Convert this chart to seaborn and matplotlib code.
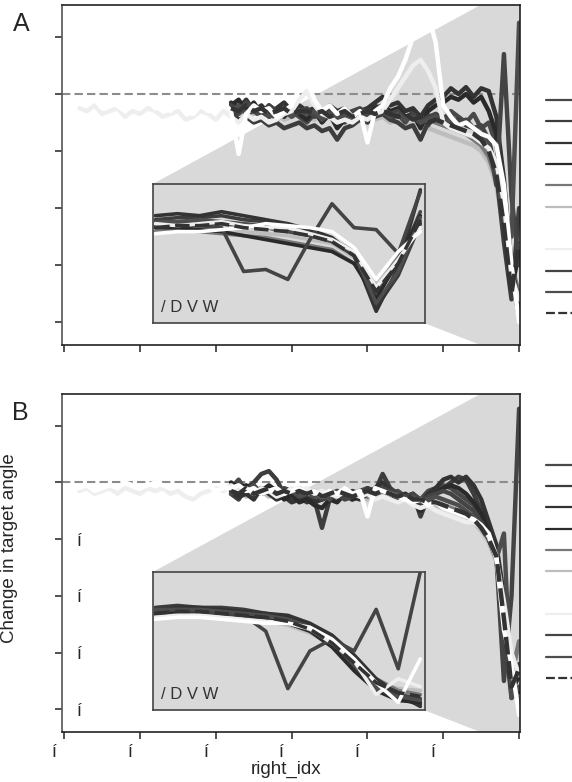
import pandas as pd
import matplotlib
matplotlib.use('Agg')
import matplotlib.pyplot as plt
from matplotlib.lines import Line2D
from matplotlib.patches import Polygon
from matplotlib.transforms import ScaledTranslation
import seaborn as sns

sns.set_style('white')
plt.rcParams['font.family'] = ['Liberation Sans', 'DejaVu Sans']

groups = ['s01', 's02', 's03', 's04', 's05', 's06', 's07', 's08', 's09', 's10', 's11']
colors = ['#484848', '#3d3d3d', '#333333', '#2a2a2a', '#787878', '#bdbdbd',
          '#ffffff', '#eeeeee', '#444444', '#4d4d4d', '#333333']
dashed = ['s11']
draw_order = ['s06', 's05', 's01', 's02', 's03', 's04', 's09', 's10', 's08', 's07', 's11']

right_idx_short = list(range(-38, 1))
right_idx_long = list(range(-58, 1))
inset_idx = [-6.0, -5.5, -5.0, -4.5, -4.0, -3.5, -3.0, -2.5, -2.0, -1.5, -1.0, -0.5, 0.0]

xticks = [-60, -50, -40, -30, -20, -10, 0]
yticks = [1, 0, -1, -2, -3, -4]

# panel A, main axes
a_main = [
    [-0.25, -0.35, -0.2, -0.3, -0.4, -0.3, -0.45, -0.35, -0.3, -0.4,
     -0.5, -0.35, -0.45, -0.3, -0.4, -0.5, -0.35, -0.3, -0.45, -0.2,
     -0.3, -0.45, -0.35, -0.5, -0.3, -0.4, -0.55, -0.35, -0.45, -0.3,
     -0.4, -0.5, -0.35, -0.6, -0.5, -0.9, -1.8, -3.2, -3.9],
    [-0.3, -0.45, -0.4, -0.5, -0.45, -0.55, -0.5, -0.6, -0.55, -0.5,
     -0.6, -0.55, -0.65, -0.6, -0.8, -0.6, -0.55, -0.45, -0.5, -0.4,
     -0.35, -0.45, -0.5, -0.6, -0.55, -0.8, -0.5, -0.45, -0.4, -0.5,
     -0.45, -0.55, -0.6, -0.7, -0.8, -1.4, -2.6, -3.6, -2.0],
    [-0.15, -0.25, -0.1, -0.3, -0.2, -0.35, -0.25, -0.15, -0.3, -0.2,
     -0.3, -0.25, -0.35, -0.2, -0.3, -0.25, -0.4, -0.3, -0.25, -0.15,
     -0.05, -0.2, -0.15, -0.3, -0.25, -0.4, -0.2, -0.1, -0.05, 0.1,
     0.0, 0.12, -0.05, 0.1, 0.05, -0.4, -1.5, -3.0, -3.7],
    [-0.2, -0.1, -0.3, -0.15, -0.35, -0.2, -0.3, -0.4, -0.25, -0.35,
     -0.45, -0.3, -0.5, -0.35, -0.6, -0.45, -0.4, -0.3, -0.35, -0.25,
     -0.2, -0.3, -0.25, -0.4, -0.35, -0.6, -0.3, -0.2, -0.15, -0.05,
     -0.1, 0.0, -0.15, -0.05, -0.3, -0.7, -2.2, -3.4, -2.8],
    [-0.3, -0.2, -0.35, -0.25, -0.3, -0.4, -0.3, -0.35, -0.25, -0.3,
     -0.35, -0.3, -0.4, -0.3, -0.45, -0.35, -0.3, -0.4, -0.25, -0.35,
     -0.3, -0.4, -0.35, -0.45, -0.4, -0.5, -0.45, -0.5, -0.55, -0.6,
     -0.65, -0.7, -0.8, -0.9, -1.1, -1.5, -2.0, -3.0, -3.5],
    [-0.35, -0.3, -0.4, -0.35, -0.3, -0.4, -0.35, -0.45, -0.4, -0.35,
     -0.4, -0.45, -0.35, -0.4, -0.5, -0.4, -0.45, -0.35, -0.4, -0.45,
     -0.4, -0.5, -0.45, -0.5, -0.55, -0.5, -0.6, -0.65, -0.7, -0.75,
     -0.8, -0.85, -0.9, -1.0, -1.2, -1.6, -2.4, -3.3, -2.5],
    [-0.15, -0.2, -0.1, -0.25, -0.15, -0.2, -0.3, -0.15, -0.2, -0.1,
     -0.25, -0.2, -0.3, -0.15, -0.25, -0.35, -0.2, -0.3, -0.25, -0.15,
     -0.3, -1.05, -0.35, -0.2, -0.3, -0.25, -0.4, -0.3, -0.2, 0.1,
     0.25, -0.1, -0.3, -0.2, -0.35, -0.25, -0.4, -0.3, -0.85, -0.3,
     -0.2, 0.1, 0.3, 0.6, 1.0, 1.1, 1.4, 0.9, -0.2, -0.4,
     -0.55, -0.5, -0.6, -0.7, -0.75, -0.9, -1.6, -3.0, -4.0],
    [-0.25, -0.3, -0.2, -0.35, -0.3, -0.25, -0.4, -0.3, -0.35, -0.25,
     -0.3, -0.4, -0.35, -0.3, -0.45, -0.4, -0.3, -0.35, -0.45, -0.3,
     -0.4, -0.5, -0.35, -0.45, -0.4, -0.5, -0.45, -0.35, -0.3, -0.1,
     0.05, -0.2, -0.35, -0.4, -0.5, -0.45, -0.5, -0.4, -0.45, -0.35,
     -0.3, -0.1, 0.1, 0.3, 0.5, 0.6, 0.4, 0.1, -0.5, -0.6,
     -0.65, -0.7, -0.75, -0.85, -0.95, -1.2, -1.9, -3.2, -3.6],
    [-0.2, -0.3, -0.15, -0.25, -0.35, -0.2, -0.3, -0.25, -0.35, -0.3,
     -0.25, -0.4, -0.3, -0.35, -0.5, -0.4, -0.3, -0.25, -0.35, -0.3,
     -0.25, -0.35, -0.3, -0.45, -0.35, -0.5, -0.4, -0.35, -0.45, -0.4,
     -0.5, -0.45, -0.6, -0.55, -0.8, -1.6, 0.7, -1.8, -3.0],
    [-0.3, -0.2, -0.35, -0.3, -0.25, -0.4, -0.35, -0.3, -0.4, -0.3,
     -0.35, -0.3, -0.45, -0.35, -0.4, -0.35, -0.5, -0.4, -0.3, -0.35,
     -0.3, -0.4, -0.35, -0.45, -0.4, -0.5, -0.45, -0.4, -0.5, -0.45,
     -0.55, -0.5, -0.6, -0.7, -0.9, -1.3, -2.2, -2.5, 1.25],
    [-0.25, -0.3, -0.2, -0.3, -0.25, -0.35, -0.3, -0.25, -0.35, -0.3,
     -0.3, -0.35, -0.3, -0.4, -0.35, -0.3, -0.4, -0.35, -0.3, -0.35,
     -0.3, -0.35, -0.4, -0.35, -0.45, -0.4, -0.5, -0.45, -0.5, -0.55,
     -0.6, -0.65, -0.7, -0.8, -1.0, -1.4, -2.3, -3.5, -2.6],
]

# panel B, main axes
b_main = [
    [-0.1, 0.05, -0.15, -0.05, -0.2, -0.1, -0.25, -0.15, -0.2, -0.1,
     -0.2, -0.15, -0.25, -0.2, -0.15, -0.25, -0.2, -0.15, -0.1, -0.2,
     -0.1, -0.2, -0.15, -0.25, -0.2, -0.3, -0.15, -0.1, -0.05, -0.1,
     -0.2, -0.3, -0.4, -0.6, -0.9, -1.3, -2.6, -3.8, -3.2],
    [-0.2, -0.3, -0.1, 0.0, 0.15, 0.2, 0.05, -0.2, -0.3, -0.25,
     -0.35, -0.3, -0.8, -0.3, -0.2, -0.25, -0.15, -0.2, -0.1, -0.15,
     0.15, -0.1, -0.2, -0.3, -0.2, -0.6, -0.25, -0.15, -0.1, 0.0,
     0.1, 0.05, -0.2, -0.5, -0.8, -1.2, -2.2, -3.5, -3.9],
    [-0.15, -0.25, -0.2, -0.3, -0.1, -0.2, -0.3, -0.25, -0.35, -0.3,
     -0.25, -0.35, -0.3, -0.2, -0.25, -0.15, -0.25, -0.3, -0.2, -0.1,
     0.0, -0.15, -0.25, -0.2, -0.3, -0.4, -0.2, -0.1, 0.05, 0.1,
     0.0, 0.1, -0.05, -0.3, -0.7, -1.1, -2.0, -3.6, -3.7],
    [0.0, -0.1, -0.05, -0.2, -0.15, -0.05, -0.15, -0.3, -0.2, -0.35,
     -0.3, -0.4, -0.45, -0.3, -0.35, -0.2, -0.3, -0.25, -0.15, -0.2,
     -0.1, -0.2, -0.3, -0.25, -0.35, -0.5, -0.3, -0.2, -0.1, -0.05,
     -0.1, -0.2, -0.35, -0.55, -0.85, -1.25, -2.4, -3.7, -3.4],
    [-0.15, -0.1, -0.2, -0.15, -0.1, -0.2, -0.15, -0.2, -0.25, -0.2,
     -0.25, -0.2, -0.3, -0.25, -0.2, -0.25, -0.3, -0.2, -0.25, -0.2,
     -0.15, -0.2, -0.25, -0.2, -0.3, -0.35, -0.3, -0.35, -0.4, -0.45,
     -0.5, -0.55, -0.65, -0.8, -1.0, -1.35, -2.5, -3.4, -2.8],
    [-0.2, -0.15, -0.25, -0.2, -0.15, -0.25, -0.2, -0.25, -0.2, -0.3,
     -0.25, -0.3, -0.25, -0.2, -0.3, -0.25, -0.3, -0.25, -0.3, -0.25,
     -0.2, -0.25, -0.3, -0.25, -0.35, -0.4, -0.35, -0.4, -0.45, -0.5,
     -0.55, -0.6, -0.7, -0.85, -1.05, -1.4, -2.3, -3.3, -3.0],
    [-0.1, -0.05, -0.15, -0.1, -0.05, -0.1, 0.0, -0.05, -0.1, -0.05,
     0.0, -0.05, -0.1, -0.05, -0.15, -0.2, -0.1, -0.05, -0.15, -0.1,
     -0.1, -0.05, -0.15, -0.1, -0.2, -0.15, -0.1, -0.2, -0.15, -0.1,
     -0.2, -0.15, -0.25, -0.15, -0.2, -0.1, -0.2, -0.15, -0.6, -0.1,
     -0.15, -0.2, -0.25, -0.3, -0.35, -0.3, -0.4, -0.35, -0.45, -0.5,
     -0.55, -0.6, -0.65, -0.75, -0.9, -1.3, -2.6, -3.2, -4.1],
    [-0.15, -0.1, -0.2, -0.15, -0.1, -0.2, -0.1, -0.15, -0.2, -0.1,
     -0.15, -0.1, -0.2, -0.15, -0.25, -0.3, -0.2, -0.15, -0.1, -0.15,
     -0.05, -0.15, -0.1, -0.2, -0.1, -0.15, -0.25, -0.2, -0.1, -0.15,
     -0.1, -0.2, -0.15, -0.2, -0.25, -0.15, -0.2, -0.25, -0.2, -0.3,
     -0.25, -0.3, -0.35, -0.3, -0.4, -0.45, -0.4, -0.5, -0.55, -0.6,
     -0.65, -0.7, -0.7, -0.8, -0.95, -1.35, -2.1, -3.0, -3.4],
    [-0.05, -0.15, -0.1, -0.2, -0.1, -0.15, -0.2, -0.1, -0.15, -0.2,
     -0.15, -0.2, -0.3, -0.25, -0.2, -0.3, -0.25, -0.2, -0.15, -0.2,
     -0.1, -0.15, -0.2, -0.25, -0.2, -0.35, -0.25, -0.2, -0.15, -0.2,
     -0.3, -0.4, -0.5, -0.7, -1.0, -1.3, -3.5, -2.0, 1.3],
    [-0.2, -0.1, -0.15, -0.05, -0.2, -0.15, -0.1, -0.2, -0.15, -0.25,
     -0.2, -0.25, -0.2, -0.3, -0.15, -0.2, -0.25, -0.15, -0.2, -0.15,
     -0.15, -0.2, -0.2, -0.3, -0.25, -0.35, -0.3, -0.25, -0.3, -0.35,
     -0.4, -0.5, -0.6, -0.75, -1.0, -1.35, -0.9, -3.8, -3.6],
    [-0.15, -0.2, -0.1, -0.2, -0.15, -0.1, -0.2, -0.15, -0.2, -0.15,
     -0.2, -0.15, -0.25, -0.2, -0.15, -0.2, -0.25, -0.2, -0.15, -0.2,
     -0.15, -0.2, -0.25, -0.2, -0.3, -0.3, -0.35, -0.35, -0.4, -0.45,
     -0.5, -0.55, -0.65, -0.8, -1.0, -1.3, -2.4, -3.6, -3.3],
]

# "Last" insets
a_inset = [
    [-0.55, -0.5, -0.45, -0.5, -0.55, -0.6, -0.7, -0.8, -0.95, -1.3, -2.3, -1.5, -0.2],
    [-0.4, -0.35, -0.35, -0.3, -0.4, -0.45, -0.55, -0.7, -0.9, -1.2, -2.6, -1.8, -0.5],
    [-0.3, -0.25, -0.3, -0.2, -0.3, -0.4, -0.5, -0.65, -0.85, -1.3, -2.7, -1.6, 0.35],
    [-0.6, -0.6, -0.65, -0.7, -0.8, -0.9, -1.0, -1.1, -1.2, -1.5, -2.4, -1.4, -0.3],
    [-0.7, -0.65, -0.7, -0.75, -0.8, -0.85, -0.95, -1.05, -1.15, -1.5, -2.2, -1.3, -0.45],
    [-0.65, -0.6, -0.6, -0.65, -0.7, -0.75, -0.8, -0.9, -1.0, -1.35, -2.0, -1.2, -0.5],
    [-0.75, -0.7, -0.7, -0.65, -0.6, -0.5, -0.55, -0.6, -0.7, -1.1, -1.9, -1.2, -0.7],
    [-0.5, -0.55, -0.5, -0.45, -0.55, -0.6, -0.6, -0.75, -0.9, -1.2, -2.1, -1.4, -0.6],
    [-0.55, -0.5, -0.55, -0.6, -1.7, -1.65, -1.9, -0.9, 0.0, -0.6, -0.65, -1.25, 0.3],
    [-0.45, -0.45, -0.4, -0.45, -0.5, -0.55, -0.65, -0.75, -0.9, -1.25, -2.5, -1.7, -0.35],
    [-0.6, -0.55, -0.55, -0.5, -0.6, -0.65, -0.7, -0.8, -0.95, -1.3, -2.2, -1.5, -0.4],
]
b_inset = [
    [-0.5, -0.45, -0.5, -0.5, -0.55, -0.6, -0.7, -0.9, -1.3, -1.9, -2.4, -2.6, -2.7],
    [-0.4, -0.35, -0.4, -0.4, -0.45, -0.55, -0.65, -0.85, -1.2, -1.7, -2.3, -2.7, -2.85],
    [-0.45, -0.4, -0.4, -0.45, -0.5, -0.55, -0.6, -0.8, -1.1, -1.6, -2.2, -2.6, -2.9],
    [-0.55, -0.5, -0.5, -0.55, -0.6, -0.7, -0.8, -1.0, -1.4, -2.0, -2.5, -2.75, -2.8],
    [-0.6, -0.55, -0.55, -0.6, -0.65, -0.7, -0.8, -1.0, -1.3, -1.8, -2.2, -2.5, -2.6],
    [-0.6, -0.6, -0.55, -0.6, -0.65, -0.75, -0.85, -1.05, -1.35, -1.85, -2.3, -2.45, -2.5],
    [-0.7, -0.65, -0.65, -0.7, -0.75, -0.8, -0.8, -0.9, -1.2, -1.7, -2.3, -2.8, -1.7],
    [-0.65, -0.6, -0.6, -0.65, -0.7, -0.75, -0.8, -0.95, -1.3, -1.75, -2.6, -2.2, -2.4],
    [-0.5, -0.45, -0.5, -0.55, -0.6, -1.0, -2.45, -1.5, -1.2, -1.5, -0.45, -1.95, 0.5],
    [-0.45, -0.45, -0.45, -0.5, -0.55, -0.6, -0.7, -0.9, -1.25, -1.85, -2.45, -2.65, -2.75],
    [-0.55, -0.5, -0.5, -0.55, -0.6, -0.65, -0.75, -0.95, -1.3, -1.8, -2.3, -2.55, -2.65],
]

palette = dict(zip(groups, colors))
dash_map = {g: ((4, 1.5) if g in dashed else '') for g in groups}


def to_long(series_list, xs_options):
    rows = []
    for name, vals in zip(groups, series_list):
        xs = [x for x in xs_options if len(x) == len(vals)][0]
        rows += [(name, x, v) for x, v in zip(xs, vals)]
    return pd.DataFrame(rows, columns=['group', 'right_idx', 'change'])


def draw_panel(ax, main_vals, inset_vals, letter, legend_top, show_labels):
    xlim = (-60.3, 0.12)
    ylim = (-4.4, 1.56)
    df = to_long(main_vals, [right_idx_short, right_idx_long])
    sns.lineplot(data=df, x='right_idx', y='change', hue='group', style='group',
                 hue_order=draw_order, style_order=draw_order, palette=palette,
                 dashes=dash_map, linewidth=3.2, errorbar=None, legend=False,
                 ax=ax, zorder=2)
    ax.axhline(0, color='#8c8c8c', lw=1.5, ls=(0, (4, 2)), zorder=1.5)
    ax.set_xlim(*xlim)
    ax.set_ylim(*ylim)

    # inset box and shaded connector to the zoomed region (last 5 samples)
    ix0, iy0, iw, ih = 0.199, 0.064, 0.593, 0.41
    zx = (-5.1 - xlim[0]) / (xlim[1] - xlim[0])
    conn = Polygon([(ix0, iy0 + ih), (zx, 1), (1, 1), (1, 0), (zx, 0),
                    (ix0 + iw, iy0), (ix0, iy0)], closed=True,
                   transform=ax.transAxes, facecolor='#d9d9d9',
                   edgecolor='none', zorder=0.5)
    ax.add_patch(conn)

    ins = ax.inset_axes([ix0, iy0, iw, ih])
    idf = to_long(inset_vals, [inset_idx])
    sns.lineplot(data=idf, x='right_idx', y='change', hue='group', style='group',
                 hue_order=draw_order, style_order=draw_order, palette=palette,
                 dashes=dash_map, linewidth=2.6, errorbar=None, legend=False,
                 ax=ins)
    ins.set_facecolor('#d9d9d9')
    ins.set_xlim(-6.05, 0.1)
    ins.set_ylim(-3.0, 0.5)
    ins.set_xticks([])
    ins.set_yticks([])
    ins.set_xlabel('')
    ins.set_ylabel('')
    for sp in ins.spines.values():
        sp.set_color('#444444')
        sp.set_linewidth(1.2)
    ins.text(0.03, 0.06, '/ D V W', transform=ins.transAxes, fontsize=12,
             color='#333333', ha='left', va='bottom')

    for sp in ax.spines.values():
        sp.set_color('#222222')
        sp.set_linewidth(1.2)
    ax.spines['left'].set_color('#555555')
    ax.set_xticks(xticks)
    ax.set_yticks(yticks)
    ax.tick_params(axis='both', length=5, width=1.1, color='#222222',
                   labelsize=13, bottom=True, left=True)
    ax.set_xlabel('')
    ax.set_ylabel('')
    if show_labels:
        ax.set_xticklabels(['í' if t < 0 else '' for t in xticks])
        ax.set_yticklabels(['í' if t < 0 else '' for t in yticks])
        ax.tick_params(axis='y', pad=-19)
        shift = ScaledTranslation(-0.1, 0, ax.figure.dpi_scale_trans)
        for lab in ax.get_xticklabels():
            lab.set_transform(lab.get_transform() + shift)
        ax.set_xlabel('right_idx', fontsize=13.5)
        ax.xaxis.set_label_coords(0.49, -0.085)
        ax.set_ylabel('Change in target angle', fontsize=13.5)
        ax.yaxis.set_label_coords(-0.096, 0.545)
    else:
        ax.set_xticklabels([])
        ax.set_yticklabels([])

    ax.text(-0.09, 0.978, letter, transform=ax.transAxes, fontsize=18,
            ha='center', va='top')

    # the legend labels run past the right edge of the figure, as in the original
    handles = [Line2D([], [], color=c, lw=1.6,
                      ls=(0, (4, 1.5)) if g in dashed else '-')
               for g, c in zip(groups, colors)]
    ax.legend(handles, groups, loc='upper left',
              bbox_to_anchor=(1.057, legend_top), frameon=False, fontsize=12,
              handlelength=2.4, borderaxespad=0, borderpad=0,
              labelspacing=0.38, handletextpad=0.6)


fig = plt.figure(figsize=(5.72, 7.82), dpi=100)
ax_a = fig.add_axes([62 / 572, 1 - 345 / 782, 458 / 572, 340 / 782])
ax_b = fig.add_axes([62 / 572, 1 - 732 / 782, 458 / 572, 338 / 782])

draw_panel(ax_a, a_main, a_inset, 'A', 0.739, False)
draw_panel(ax_b, b_main, b_inset, 'B', 0.809, True)

fig.savefig('out.png', dpi=100)
